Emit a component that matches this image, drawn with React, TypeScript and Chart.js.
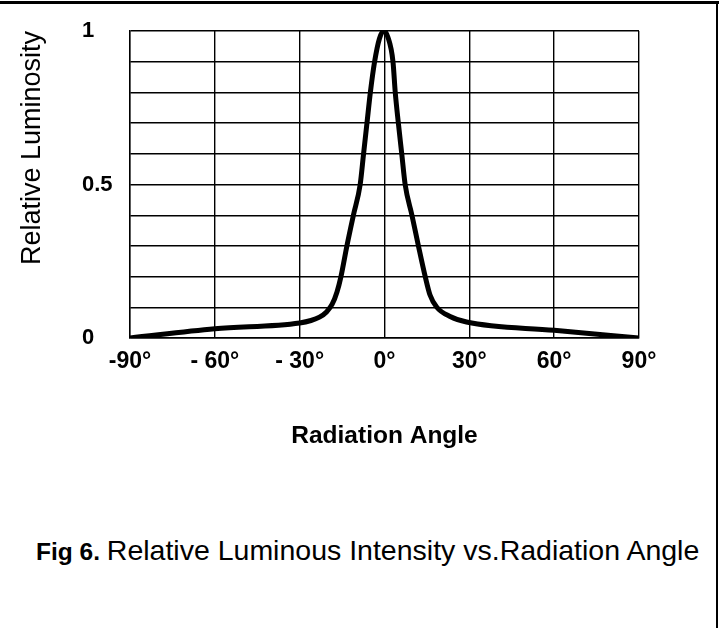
import React, { useEffect, useRef } from "react";
import { Chart, registerables } from "chart.js";

Chart.register(...registerables);

// Data (angle in degrees, relative luminosity)
const angles = [-90, -60, -30, -26, -23, -20.5, -18.5, -16.8, -15.4, -13.3, -11, -8.6, -7.4, -6.2, -5, -3.5, -1.8, -0.3, 1.2, 3, 3.8, 4.9, 6.1, 7.3, 9.7, 12, 14.4, 16.1, 18.5, 23.2, 29, 60, 90];
const luminosity = [0, 0.03, 0.049, 0.057, 0.068, 0.085, 0.11, 0.15, 0.2, 0.3, 0.4, 0.5, 0.6, 0.7, 0.8, 0.9, 0.975, 1.0, 0.98, 0.9, 0.8, 0.7, 0.6, 0.5, 0.4, 0.3, 0.2, 0.14, 0.1, 0.07, 0.052, 0.025, 0];

const xTickValues = [-90, -60, -30, 0, 30, 60, 90];
const xTickLabels = ["-90°", "- 60°", "- 30°", "0°", "30°", "60°", "90°"];
const yTickValues = [0, 0.5, 1];
const yTickLabels = ["0", "0.5", "1"];

const yTitle = "Relative Luminosity";
const xTitle = "Radiation Angle";
const captionBold = "Fig 6.";
const captionText = "Relative Luminous Intensity vs.Radiation Angle";

const FONT = "'Liberation Sans', Arial, Helvetica, sans-serif";

export default function App() {
  const canvasRef = useRef<HTMLCanvasElement | null>(null);

  useEffect(() => {
    if (!canvasRef.current) return;
    const chart = new Chart(canvasRef.current, {
      type: "line",
      data: {
        datasets: [
          {
            data: angles.map((a, i) => ({ x: a, y: luminosity[i] })),
            borderColor: "#000",
            borderWidth: 5,
            pointRadius: 0,
            cubicInterpolationMode: "monotone",
            fill: false,
          },
        ],
      },
      options: {
        responsive: false,
        animation: false,
        layout: { padding: { left: 82, right: 80, top: 31, bottom: 0 } },
        plugins: { legend: { display: false }, tooltip: { enabled: false } },
        scales: {
          x: {
            type: "linear",
            min: -90,
            max: 90,
            afterFit: (s: any) => {
              s.height = 132;
            },
            grid: { color: "#000", lineWidth: 1.4, drawTicks: false },
            border: { display: true, color: "#000", width: 1.4 },
            ticks: {
              stepSize: 30,
              padding: 10,
              color: "#000",
              font: { family: FONT, size: 23, weight: "bold" },
              maxRotation: 0,
              autoSkip: false,
              callback: (v: any) => {
                const i = xTickValues.findIndex((t) => Math.abs(t - Number(v)) < 1e-6);
                return i >= 0 ? xTickLabels[i] : "";
              },
            },
            title: {
              display: true,
              text: xTitle,
              color: "#000",
              font: { family: FONT, size: 24.5, weight: "bold" },
              padding: { top: 0, bottom: 19 },
            },
          },
          y: {
            min: 0,
            max: 1,
            afterFit: (s: any) => {
              s.width = 48;
            },
            grid: { color: "#000", lineWidth: 1.4, drawTicks: false },
            border: { display: true, color: "#000", width: 1.4 },
            ticks: {
              stepSize: 0.1,
              crossAlign: "far",
              color: "#000",
              font: { family: FONT, size: 22, weight: "bold" },
              autoSkip: false,
              callback: (v: any) => {
                const i = yTickValues.findIndex((t) => Math.abs(t - Number(v)) < 1e-6);
                return i >= 0 ? yTickLabels[i] : "";
              },
            },
            title: {
              display: true,
              text: yTitle,
              align: "end",
              color: "#000",
              font: { family: FONT, size: 27, weight: "normal" },
              padding: { top: -66, bottom: 0 },
            },
          },
        },
      },
    } as any);
    return () => chart.destroy();
  }, []);

  return (
    <div
      style={{
        position: "fixed",
        left: 0,
        top: 0,
        width: 719,
        height: 628,
        background: "#fff",
        overflow: "hidden",
      }}
    >
      <canvas
        ref={canvasRef}
        width={719}
        height={470}
        style={{ position: "absolute", left: 0, top: 0, width: 719, height: 470 }}
      />
      <div style={{ position: "absolute", left: 0, top: 1, width: 719, height: 3, background: "#000" }} />
      <div style={{ position: "absolute", left: 716, top: 1, width: 2, height: 627, background: "#000" }} />
      <div
        style={{
          position: "absolute",
          left: 36,
          top: 536,
          fontFamily: FONT,
          fontSize: 28.5,
          lineHeight: 1,
          color: "#000",
          whiteSpace: "nowrap",
        }}
      >
        <span style={{ fontWeight: "bold", fontSize: 24.5 }}>{captionBold} </span>
        <span>{captionText}</span>
      </div>
    </div>
  );
}
